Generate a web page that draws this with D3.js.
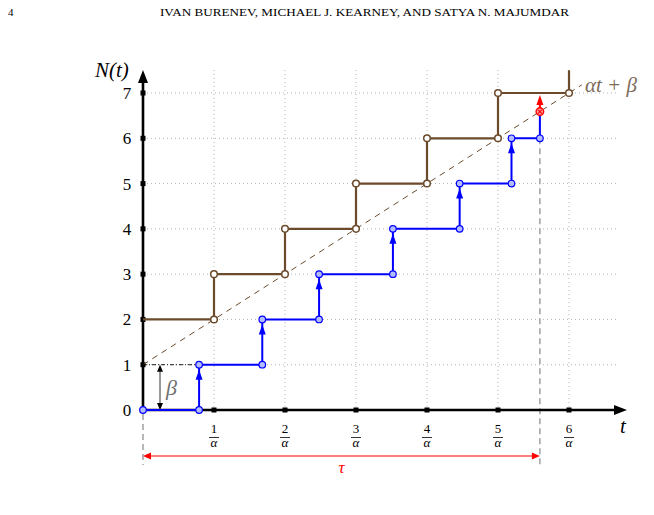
<!DOCTYPE html>
<html><head><meta charset="utf-8">
<script src="https://cdn.jsdelivr.net/npm/d3@7"></script>
<style>body{margin:0;background:#fff}svg{display:block}</style>
</head><body>
<svg id="c" width="654" height="515"></svg>
<script>
// ---- data ----
const xTicks = [1, 2, 3, 4, 5, 6];            // multiples of 1/alpha
const yTicks = [0, 1, 2, 3, 4, 5, 6, 7];
const brownJumpT = [1, 2, 3, 4, 5, 6];          // deterministic jump times
const brownLevels = [2, 3, 4, 5, 6, 7];         // level before each jump
const brownTopN = 7.5;
const blueJumpT = [0.79, 1.68, 2.48, 3.52, 4.46, 5.19]; // random jump times
const blueLevels = [0, 1, 2, 3, 4, 5, 6];
const tau = 5.59;
const beta = 1, alpha = 1;
const lineEndT = 6.18;

const svg = d3.select("#c");
const x = d3.scaleLinear().domain([0, 6]).range([143, 569]);
const y = d3.scaleLinear().domain([0, 7]).range([410, 93]);
const serif = "'Liberation Serif','DejaVu Serif',serif";
const brown = "#6b4b2c", blue = "#0000ff", red = "#ff0000";

// header
svg.append("text").attr("x", 8).attr("y", 16).attr("font-family", serif).attr("font-size", 11).text("4");
svg.append("text").attr("x", 160).attr("y", 16).attr("font-family", serif).attr("font-size", 11)
  .attr("textLength", 409).attr("lengthAdjust", "spacingAndGlyphs")
  .text("IVAN BURENEV, MICHAEL J. KEARNEY, AND SATYA N. MAJUMDAR");

// grid
const g = svg.append("g");
yTicks.filter(d => d > 0).forEach(d => {
  g.append("line").attr("x1", x(0)).attr("x2", 617).attr("y1", y(d)).attr("y2", y(d))
    .attr("stroke", "#b5b5b5").attr("stroke-width", 1).attr("stroke-dasharray", "1,3");
});
xTicks.forEach(d => {
  g.append("line").attr("x1", x(d)).attr("x2", x(d)).attr("y1", 70).attr("y2", y(0))
    .attr("stroke", "#b5b5b5").attr("stroke-width", 1).attr("stroke-dasharray", "1,3");
});

// gray dashed verticals (tau)
svg.append("line").attr("x1", x(0)).attr("x2", x(0)).attr("y1", y(0) + 4).attr("y2", 465)
  .attr("stroke", "#a0a0a0").attr("stroke-width", 1.5).attr("stroke-dasharray", "6,4");
svg.append("line").attr("x1", x(tau)).attr("x2", x(tau)).attr("y1", y(6)).attr("y2", 465)
  .attr("stroke", "#a0a0a0").attr("stroke-width", 1.5).attr("stroke-dasharray", "6,4");

// axes
svg.append("line").attr("x1", x(0)).attr("x2", x(0)).attr("y1", y(0)).attr("y2", 80)
  .attr("stroke", "#000").attr("stroke-width", 2.6);
svg.append("path").attr("d", `M${x(0)},70 L${x(0) - 5},83 L${x(0) + 5},83 Z`).attr("fill", "#000");
svg.append("line").attr("x1", x(0)).attr("x2", 617).attr("y1", y(0)).attr("y2", y(0))
  .attr("stroke", "#000").attr("stroke-width", 2.6);
svg.append("path").attr("d", `M627,${y(0)} L614,${y(0) - 5} L614,${y(0) + 5} Z`).attr("fill", "#000");
yTicks.filter(d => d > 0).forEach(d => {
  svg.append("rect").attr("x", x(0) - 2.5).attr("y", y(d) - 2.5).attr("width", 5).attr("height", 5).attr("fill", "#000");
});
xTicks.forEach(d => {
  svg.append("rect").attr("x", x(d) - 2.5).attr("y", y(0) - 2.5).attr("width", 5).attr("height", 5).attr("fill", "#000");
});

// tick labels
yTicks.forEach(d => {
  svg.append("text").attr("x", 127).attr("y", y(d) + 6).attr("text-anchor", "middle")
    .attr("font-family", serif).attr("font-size", 17).text(d);
});
xTicks.forEach(d => {
  const tg = svg.append("g").attr("transform", `translate(${x(d)},0)`);
  tg.append("text").attr("x", 0).attr("y", 433).attr("text-anchor", "middle").attr("font-family", serif).attr("font-size", 13).text(d);
  tg.append("line").attr("x1", -5).attr("x2", 5).attr("y1", 437.5).attr("y2", 437.5).attr("stroke", "#000").attr("stroke-width", 0.8);
  tg.append("text").attr("x", 0).attr("y", 447).attr("text-anchor", "middle").attr("font-family", serif).attr("font-style", "italic").attr("font-size", 13).text("α");
});
svg.append("text").attr("x", 95).attr("y", 77).attr("font-family", serif).attr("font-style", "italic").attr("font-size", 21).text("N(t)");
svg.append("text").attr("x", 620).attr("y", 433).attr("font-family", serif).attr("font-style", "italic").attr("font-size", 21).text("t");

// alpha t + beta dashed line
svg.append("line").attr("x1", x(0)).attr("y1", y(beta)).attr("x2", x(lineEndT)).attr("y2", y(beta + alpha * lineEndT))
  .attr("stroke", brown).attr("stroke-width", 1).attr("stroke-dasharray", "6,5");
svg.append("text").attr("x", 585).attr("y", 92).attr("font-family", serif).attr("font-style", "italic")
  .attr("font-size", 21).attr("fill", "#7d6b5a").text("αt + β");

// brown staircase
const bpts = [[0, brownLevels[0]]];
brownJumpT.forEach((t, i) => { bpts.push([t, brownLevels[i]]); bpts.push([t, i + 1 < brownLevels.length ? brownLevels[i + 1] : brownLevels[i]]); });
bpts.push([brownJumpT[brownJumpT.length - 1], brownTopN]);
const line = d3.line().x(d => x(d[0])).y(d => y(d[1]));
svg.append("path").attr("d", line(bpts)).attr("fill", "none").attr("stroke", brown).attr("stroke-width", 2.2);
brownJumpT.forEach((t, i) => {
  const lv = [brownLevels[i]];
  if (i + 1 < brownLevels.length) lv.push(brownLevels[i + 1]);
  lv.forEach(n => svg.append("circle").attr("cx", x(t)).attr("cy", y(n)).attr("r", 3.3)
    .attr("fill", "#fff").attr("stroke", brown).attr("stroke-width", 1.5));
});

// beta indicator
svg.append("line").attr("x1", x(0)).attr("x2", x(blueJumpT[0])).attr("y1", y(1)).attr("y2", y(1))
  .attr("stroke", "#000").attr("stroke-width", 0.9).attr("stroke-dasharray", "4,2,1,2");
const bx = 160;
svg.append("line").attr("x1", bx).attr("x2", bx).attr("y1", y(1) + 6).attr("y2", y(0) - 6).attr("stroke", "#333").attr("stroke-width", 1);
svg.append("path").attr("d", `M${bx},${y(1)} L${bx - 3},${y(1) + 7} L${bx + 3},${y(1) + 7} Z`).attr("fill", "#000");
svg.append("path").attr("d", `M${bx},${y(0)} L${bx - 3},${y(0) - 7} L${bx + 3},${y(0) - 7} Z`).attr("fill", "#000");
svg.append("text").attr("x", 166).attr("y", 395).attr("font-family", serif).attr("font-style", "italic")
  .attr("font-size", 22).attr("fill", "#707070").text("β");

// blue staircase
const upts = [[0, blueLevels[0]]];
blueJumpT.forEach((t, i) => { upts.push([t, blueLevels[i]]); upts.push([t, blueLevels[i + 1]]); });
upts.push([tau, blueLevels[blueLevels.length - 1]]);
const crossN = beta + alpha * tau;
upts.push([tau, crossN]);
svg.append("path").attr("d", line(upts)).attr("fill", "none").attr("stroke", blue).attr("stroke-width", 2);
blueJumpT.forEach((t, i) => {
  const tipY = y(blueLevels[i + 1]) + 5;
  svg.append("path").attr("d", `M${x(t)},${tipY} L${x(t) - 3.5},${tipY + 10} L${x(t) + 3.5},${tipY + 10} Z`).attr("fill", blue);
});
const bcirc = [[0, blueLevels[0]]];
blueJumpT.forEach((t, i) => { bcirc.push([t, blueLevels[i]]); bcirc.push([t, blueLevels[i + 1]]); });
bcirc.push([tau, blueLevels[blueLevels.length - 1]]);
bcirc.forEach(d => svg.append("circle").attr("cx", x(d[0])).attr("cy", y(d[1])).attr("r", 3.3)
  .attr("fill", "#b4bcff").attr("stroke", blue).attr("stroke-width", 1.2));

// red jump at tau
svg.append("line").attr("x1", x(tau)).attr("x2", x(tau)).attr("y1", y(crossN)).attr("y2", y(7) + 10)
  .attr("stroke", red).attr("stroke-width", 2);
svg.append("path").attr("d", `M${x(tau)},${y(7) + 2} L${x(tau) - 3.5},${y(7) + 12} L${x(tau) + 3.5},${y(7) + 12} Z`).attr("fill", red);
svg.append("circle").attr("cx", x(tau)).attr("cy", y(crossN)).attr("r", 3.8).attr("fill", "#ff9a9a").attr("stroke", red).attr("stroke-width", 1.4);
svg.append("path").attr("d", `M${x(tau) - 2},${y(crossN) - 2} L${x(tau) + 2},${y(crossN) + 2} M${x(tau) + 2},${y(crossN) - 2} L${x(tau) - 2},${y(crossN) + 2}`)
  .attr("stroke", red).attr("stroke-width", 1.1);

// tau arrow
const ty = 456;
svg.append("line").attr("x1", x(0) + 6).attr("x2", x(tau) - 6).attr("y1", ty).attr("y2", ty).attr("stroke", red).attr("stroke-width", 1.2);
svg.append("path").attr("d", `M${x(0)},${ty} L${x(0) + 8},${ty - 3.5} L${x(0) + 8},${ty + 3.5} Z`).attr("fill", red);
svg.append("path").attr("d", `M${x(tau)},${ty} L${x(tau) - 8},${ty - 3.5} L${x(tau) - 8},${ty + 3.5} Z`).attr("fill", red);
svg.append("text").attr("x", (x(0) + x(tau)) / 2).attr("y", 473).attr("text-anchor", "middle")
  .attr("font-family", serif).attr("font-style", "italic").attr("font-size", 17).attr("fill", red).text("τ");
</script>
</body></html>
